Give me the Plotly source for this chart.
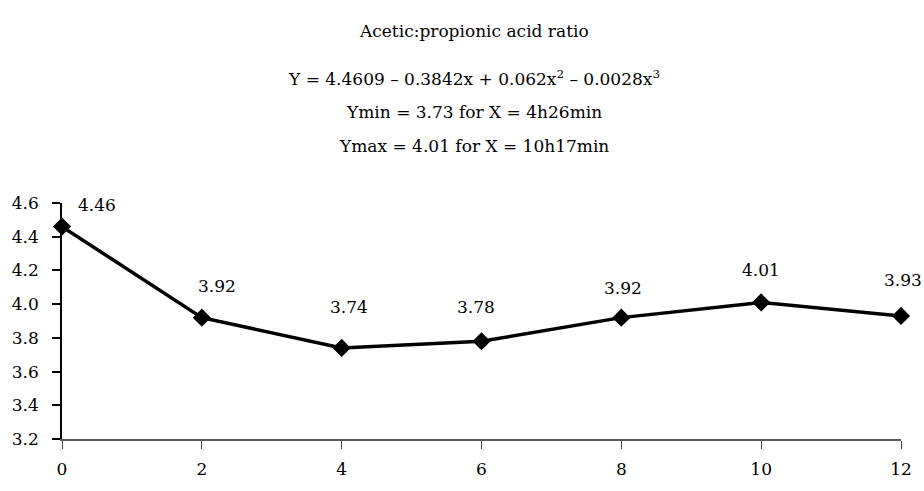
import plotly.graph_objects as go

# Data
hours = [0, 2, 4, 6, 8, 10, 12]
ratio = [4.46, 3.92, 3.74, 3.78, 3.92, 4.01, 3.93]
labels = ["4.46", "3.92", "3.74", "3.78", "3.92", "4.01", "3.93"]
x_ticks = [0, 2, 4, 6, 8, 10, 12]
y_ticks = [3.2, 3.4, 3.6, 3.8, 4.0, 4.2, 4.4, 4.6]
y_tick_text = ["3.2", "3.4", "3.6", "3.8", "4.0", "4.2", "4.4", "4.6"]
title_lines = [
    "Acetic:propionic acid ratio",
    "Y = 4.4609 \u2013 0.3842x + 0.062x<sup>2</sup> \u2013 0.0028x<sup>3</sup>",
    "Ymin = 3.73 for X = 4h26min",
    "Ymax = 4.01 for X = 10h17min",
]

# Label placement offsets (pixels) - style only
label_dx = [35, 15, 7, -6, 2, 0, 2]
label_dy = [22, 32, 41, 34, 30, 32, 36]
title_y = [1.728, 1.528, 1.386, 1.240]

FONT = "DejaVu Serif"
FS = 17

fig = go.Figure()
fig.add_trace(go.Scatter(
    x=hours, y=ratio, mode="lines+markers",
    line=dict(color="black", width=3.5),
    marker=dict(symbol="diamond", size=14, color="black"),
    showlegend=False, hoverinfo="x+y", cliponaxis=False,
))

annotations = []
for xv, yv, t, dx, dy in zip(hours, ratio, labels, label_dx, label_dy):
    annotations.append(dict(
        x=xv, y=yv, xref="x", yref="y", text=t, showarrow=False,
        xshift=dx, yshift=dy, font=dict(family=FONT, size=FS, color="black"),
        xanchor="center", yanchor="middle",
    ))
for ty, t in zip(title_y, title_lines):
    annotations.append(dict(
        x=0.491, y=ty, xref="paper", yref="paper", text=t, showarrow=False,
        xanchor="center", yanchor="middle",
        font=dict(family=FONT, size=FS, color="black"),
    ))

fig.update_layout(
    width=924, height=491,
    margin=dict(l=58, r=23, t=203, b=42),
    paper_bgcolor="white", plot_bgcolor="white",
    font=dict(family=FONT, size=FS, color="black"),
    annotations=annotations,
    xaxis=dict(
        range=[0, 12], tickvals=x_ticks, ticktext=[str(v) for v in x_ticks],
        showgrid=False, zeroline=False, showline=True, linecolor="#595959",
        linewidth=1.5, ticks="outside", ticklen=8, tickcolor="#404040", tickwidth=1,
        tickfont=dict(family=FONT, size=FS, color="black"),
        ticklabelstandoff=6,
    ),
    yaxis=dict(
        range=[3.2, 4.6], tickvals=y_ticks, ticktext=y_tick_text,
        showgrid=False, zeroline=False, showline=True, linecolor="black",
        linewidth=1.5, ticks="outside", ticklen=8, tickcolor="black", tickwidth=1.5,
        tickfont=dict(family=FONT, size=FS, color="black"),
        ticklabelstandoff=10,
    ),
)

fig.write_html(
    "out.html",
    config={"displayModeBar": False},
    post_script="document.body.style.margin='0';document.body.style.overflow='hidden';",
)
